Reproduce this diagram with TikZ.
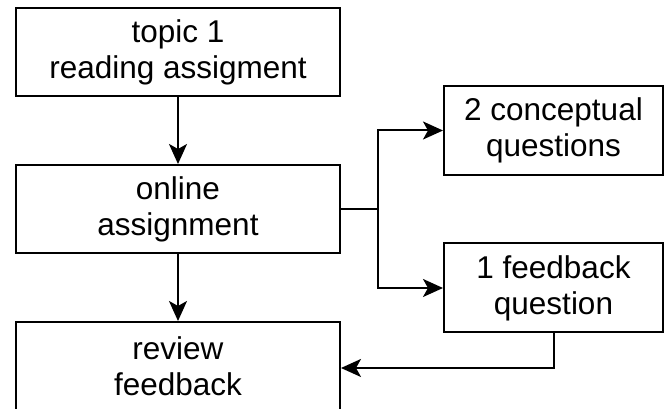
\documentclass[tikz,border=0pt]{standalone}
\usepackage{fontspec}
\setmainfont{Liberation Sans}
\usetikzlibrary{arrows.meta,positioning}
\tikzset{
  stepbox/.style={draw=black,fill=white,line width=2pt,align=center,inner sep=0pt,
    font=\fontsize{31.5}{36}\selectfont,text=black},
  widebox/.style={stepbox,minimum width=324pt,minimum height=88pt},
  sidebox/.style={stepbox,minimum width=219pt,minimum height=89pt},
  arr/.style={-{Stealth[length=20pt,width=18pt,inset=5pt]},draw=black,line width=2pt}
}
\begin{document}
\begin{tikzpicture}[x=1pt,y=1pt]
\clip (0,0) rectangle (665,409);
\node[widebox] (topic) at (178,357) {topic 1\\reading assigment};
\node[widebox] (online) at (178,200) {online\\assignment};
\node[widebox] (review) at (178,43) {review\\feedback};
\node[sidebox] (concept) at (553.5,278.5) {2 conceptual\\questions};
\node[sidebox] (fbq) at (553.5,121) {1 feedback\\question};
\coordinate (split) at (378,200);
\draw[arr] (topic)--(online);
\draw[arr] (online)--(review);
\draw[line width=2pt] (online.east)--(split);
\draw[arr] (split)|-(concept.west);
\draw[arr] (split)|-(fbq.west);
\draw[arr] (fbq.south)|-([yshift=-2pt]review.east);
\end{tikzpicture}
\end{document}
